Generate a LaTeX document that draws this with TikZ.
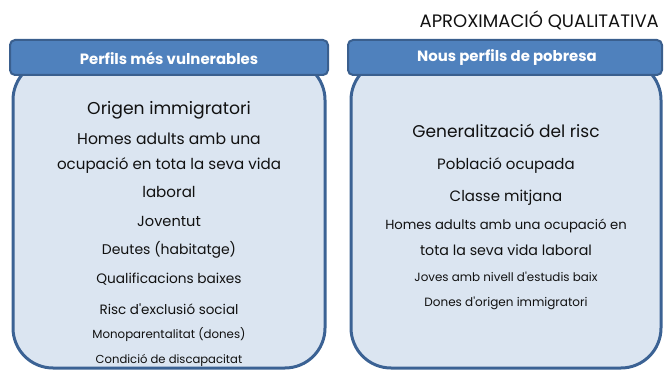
\documentclass[tikz,border=0pt]{standalone}
\usepackage{fontspec}
\setmainfont{Poppins}[Ligatures=TeXOff]
\definecolor{hdrfill}{HTML}{4F81BD}
\definecolor{hdrline}{HTML}{3A5F8E}
\definecolor{bodyfill}{HTML}{DBE5F1}
\definecolor{bodyline}{HTML}{3B6294}
\definecolor{txt}{HTML}{111111}
\tikzset{
  bodybox/.style={draw=bodyline, fill=bodyfill, line width=3pt, rounded corners=40pt},
  hdrbox/.style={draw=hdrline, fill=hdrfill, line width=2pt, rounded corners=5pt},
  hdrtext/.style={text=white, font=\bfseries\fontsize{14.9}{16}\selectfont, inner sep=0pt},
  item/.style={text=txt, inner sep=0pt, anchor=center},
}
\newcommand{\fs}[1]{\fontsize{#1}{#1}\selectfont}
\begin{document}
\begin{tikzpicture}[x=1pt,y=-1pt]
\useasboundingbox (0,0) rectangle (664,371);
% left panel
\draw[bodybox] (13,60) rectangle (325,368);
\draw[hdrbox] (10,40) rectangle (328,75);
\node[hdrtext] (lh) at (169,58) {Perfils més vulnerables};
% right panel
\draw[bodybox] (351,60) rectangle (661,368);
\draw[hdrbox] (348,40) rectangle (662,75);
\node[hdrtext] (rh) at (507,58) {Nous perfils de pobresa};
% title
\node[text=txt, inner sep=0pt, anchor=east, font=\fs{18}] (ttl) at (659,20) {APROXIMACIÓ QUALITATIVA};
% left items
\node[item, font=\fs{17.2}] (l1) at (169,110) {Origen immigratori};
\node[item, font=\fs{15.6}] (l2) at (169,139) {Homes adults amb una};
\node[item, font=\fs{15.1}] (l3) at (169,166) {ocupació en tota la seva vida};
\node[item, font=\fs{15.1}] (l4) at (169,192) {laboral};
\node[item, font=\fs{14.6}] (l5) at (169,221) {Joventut};
\node[item, font=\fs{14}] (l6) at (169,250) {Deutes (habitatge)};
\node[item, font=\fs{13.7}] (l7) at (169,279) {Qualificacions baixes};
\node[item, font=\fs{13.5}] (l8) at (169,309) {Risc d'exclusió social};
\node[item, font=\fs{11.8}] (l9) at (169,335) {Monoparentalitat (dones)};
\node[item, font=\fs{11.6}] (l10) at (169,360) {Condició de discapacitat};
% right items
\node[item, font=\fs{17}] (r1) at (506,131) {Generalització del risc};
\node[item, font=\fs{15}] (r2) at (506,166) {Població ocupada};
\node[item, font=\fs{15}] (r3) at (506,198) {Classe mitjana};
\node[item, font=\fs{13.2}] (r4) at (506,226) {Homes adults amb una ocupació en};
\node[item, font=\fs{14.2}] (r5) at (506,250) {tota la seva vida laboral};
\node[item, font=\fs{11.9}] (r6) at (506,277) {Joves amb nivell d'estudis baix};
\node[item, font=\fs{12}] (r7) at (506,303) {Dones d'origen immigratori};
\end{tikzpicture}
\end{document}
